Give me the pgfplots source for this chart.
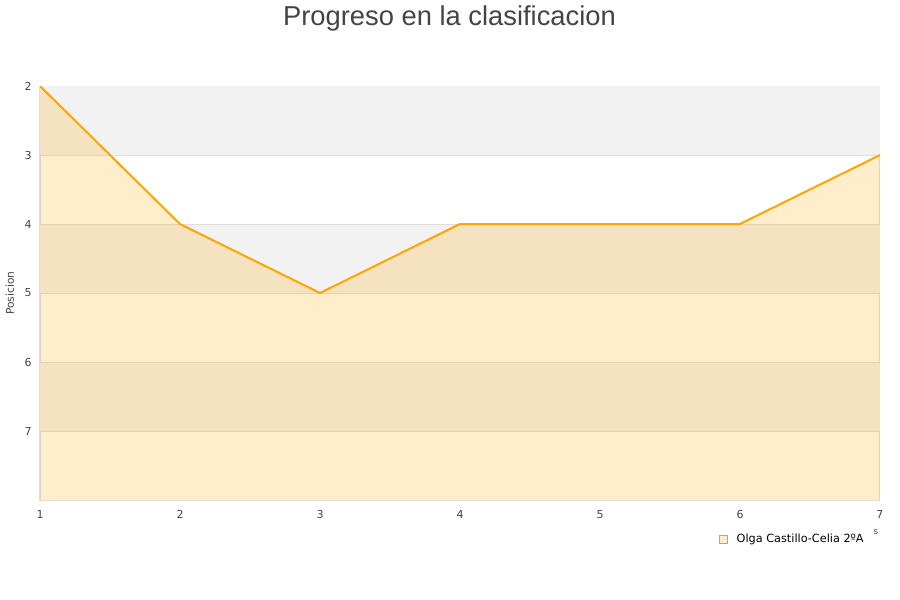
\documentclass[border=0pt]{standalone}
\usepackage{fontspec}
\setmainfont{DejaVu Sans}
\newfontfamily\titlefont{Liberation Sans}
\usepackage{pgfplots}
\pgfplotsset{compat=1.18}
\definecolor{lineor}{HTML}{FFA500}
\definecolor{bandgray}{HTML}{F2F2F2}
\definecolor{gridgray}{HTML}{DEDEDE}
\definecolor{txtgray}{HTML}{444444}
\begin{document}
\begin{tikzpicture}
\begin{axis}[
  at={(0,0)}, anchor=south west,
  scale only axis, width=630pt, height=310.5pt,
  xmin=1, xmax=7, ymin=2, ymax=8,
  y dir=reverse,
  xtick={1,...,7}, ytick={2,...,7},
  major tick length=0pt,
  axis line style={draw=gridgray, line width=0.75pt},
  /pgf/number format/assume math mode=true,
  tick label style={font=\fontsize{8.25}{9}\selectfont, text=txtgray},
  yticklabel style={anchor=east, inner sep=0pt, xshift=-6pt},
  xticklabel style={anchor=base, inner sep=0pt, yshift=-14pt},
  title={\titlefont\fontsize{20.5}{24}\selectfont Progreso en la clasificacion},
  title style={at={(axis description cs:0.4875,1.145)}, anchor=center, inner sep=0pt, text=txtgray},
  ylabel={Posicion},
  ylabel style={at={(axis description cs:-0.0357,0.5)}, anchor=center, font=\fontsize{8}{9}\selectfont, text=txtgray},
  xlabel={s},
  xlabel style={at={(axis description cs:0.995,-0.077)}, anchor=center, font=\fontsize{6.5}{7}\selectfont, text=txtgray},
  legend style={at={(axis description cs:0.992,-0.0955)}, anchor=east, draw=none, fill=none,
    font=\fontsize{8.45}{9}\selectfont, inner sep=0pt, nodes={inner xsep=7pt}},
  legend cell align=left,
]
% alternating background bands
\addplot[fill=bandgray, draw=none, forget plot]
  coordinates {(1,2)(7,2)(7,3)(1,3)} -- cycle;
\addplot[fill=bandgray, draw=none, forget plot]
  coordinates {(1,4)(7,4)(7,5)(1,5)} -- cycle;
\addplot[fill=bandgray, draw=none, forget plot]
  coordinates {(1,6)(7,6)(7,7)(1,7)} -- cycle;
% horizontal grid lines
\addplot[draw=gridgray, line width=0.6pt, forget plot] coordinates {(1,3)(7,3)};
\addplot[draw=gridgray, line width=0.6pt, forget plot] coordinates {(1,4)(7,4)};
\addplot[draw=gridgray, line width=0.6pt, forget plot] coordinates {(1,5)(7,5)};
\addplot[draw=gridgray, line width=0.6pt, forget plot] coordinates {(1,6)(7,6)};
\addplot[draw=gridgray, line width=0.6pt, forget plot] coordinates {(1,7)(7,7)};
% area under the line
\addplot[fill=lineor, fill opacity=0.2, draw=none, forget plot]
  coordinates {(1,2)(2,4)(3,5)(4,4)(5,4)(6,4)(7,3)(7,8)(1,8)} -- cycle;
% line
\addplot[draw=lineor, line width=1.5pt,
  legend image code/.code={\draw[fill=lineor!20, draw=gray!70, line width=0.5pt] (0pt,-3pt) rectangle (6pt,3pt);}]
  coordinates {(1,2)(2,4)(3,5)(4,4)(5,4)(6,4)(7,3)};
\addlegendentry{Olga Castillo-Celia 2ºA}
\end{axis}
\pgfresetboundingbox
\useasboundingbox (-30pt,-75pt) rectangle (645pt,375pt);
\end{tikzpicture}
\end{document}
